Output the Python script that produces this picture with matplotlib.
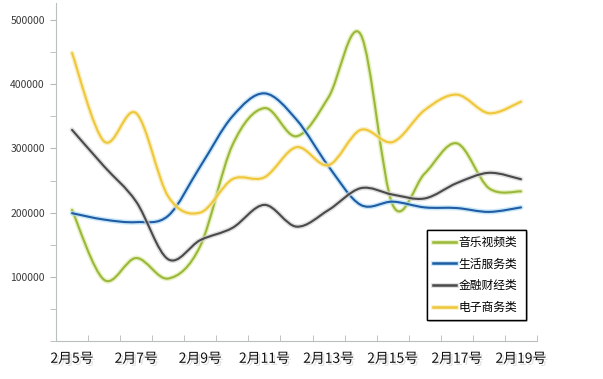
import matplotlib
matplotlib.use("Agg")
import matplotlib.pyplot as plt
import matplotlib.patheffects as pe
from matplotlib.path import Path
from matplotlib.patches import PathPatch
from matplotlib.lines import Line2D
from matplotlib.ticker import MultipleLocator, FixedLocator, NullFormatter
import numpy as np

plt.rcParams['font.family'] = ['Noto Sans CJK SC', 'DejaVu Sans']

# data
days = ['2月5号', '2月6号', '2月7号', '2月8号', '2月9号', '2月10号', '2月11号', '2月12号',
        '2月13号', '2月14号', '2月15号', '2月16号', '2月17号', '2月18号', '2月19号']
music = [204000, 95000, 129000, 97000, 148000, 305000, 363000, 319000,
         380000, 478000, 212000, 261000, 308000, 238000, 233000]
life = [199000, 189000, 185000, 195000, 272000, 350000, 386000, 345000,
        272000, 212000, 217000, 208000, 207000, 201000, 208000]
finance = [329000, 272000, 217000, 127000, 157000, 176000, 212000, 178000,
           204000, 238000, 228000, 222000, 246000, 262000, 252000]
ecommerce = [449000, 311000, 355000, 225000, 200000, 252000, 255000, 302000,
             274000, 329000, 310000, 360000, 384000, 355000, 373000]

series = [
    ('音乐视频类', music, '#9ab83a', '#dfecaa'),
    ('生活服务类', life, '#1f5ca3', '#b0dcf6'),
    ('金融财经类', finance, '#4a4a4a', '#d0d0d0'),
    ('电子商务类', ecommerce, '#efc73a', '#f9eab0'),
]


def smooth_path(xs, ys):
    # Catmull-Rom through the points, as cubic Bezier segments
    pts = np.column_stack([xs, ys]).astype(float)
    ext = np.vstack([pts[0], pts, pts[-1]])
    verts = [pts[0]]
    codes = [Path.MOVETO]
    for i in range(1, len(ext) - 2):
        p0, p1, p2, p3 = ext[i - 1], ext[i], ext[i + 1], ext[i + 2]
        verts += [p1 + (p2 - p0) / 6.0, p2 - (p3 - p1) / 6.0, p2]
        codes += [Path.CURVE4] * 3
    return Path(verts, codes)


fig = plt.figure(figsize=(6.03, 3.79), dpi=100)
ax = fig.add_axes([56 / 603, 1 - 340.7 / 379, 481 / 603, 337.7 / 379])

x = np.arange(len(days))
handles = []
for name, vals, color, glow in series:
    patch = PathPatch(smooth_path(x, vals), facecolor='none', edgecolor=color,
                      linewidth=1.5, capstyle='round', joinstyle='round',
                      path_effects=[pe.Stroke(linewidth=3.6, foreground=glow, alpha=0.7),
                                    pe.Normal()])
    ax.add_patch(patch)
    handles.append(Line2D([0], [0], color=color, linewidth=1.8,
                          path_effects=[pe.Stroke(linewidth=3.5, foreground=glow, alpha=0.7),
                                        pe.Normal()]))

ax.set_xlim(-0.5, len(days) - 0.5)
ax.set_ylim(0, 527000)

# axes styling
for s in ['top', 'right']:
    ax.spines[s].set_visible(False)
for s in ['left', 'bottom']:
    ax.spines[s].set_color('#b8c0c0')
    ax.spines[s].set_linestyle((0, (1, 1)))
    ax.spines[s].set_linewidth(0.8)

ax.yaxis.set_major_locator(FixedLocator([100000, 200000, 300000, 400000, 500000]))
ax.yaxis.set_minor_locator(MultipleLocator(50000))
ax.tick_params(axis='y', which='both', direction='out', length=4, color='#b8b8b8',
               labelsize=7.5, labelcolor='#3a3a3a', pad=4)

ax.xaxis.set_major_locator(FixedLocator(x[::2]))
ax.set_xticklabels(days[::2])
ax.xaxis.set_minor_locator(FixedLocator(np.arange(-0.5, len(days), 1.0)))
ax.xaxis.set_minor_formatter(NullFormatter())
ax.tick_params(axis='x', which='major', length=0, labelsize=10, labelcolor='#111111', pad=8)
ax.tick_params(axis='x', which='minor', direction='in', length=4, color='#b8b8b8')
for lab in ax.get_xticklabels():
    lab.set_path_effects([pe.withSimplePatchShadow(offset=(1.5, -1.5), shadow_rgbFace='#999999',
                                                   alpha=0.3)])

leg = ax.legend(handles, [s[0] for s in series], loc='lower left',
                bbox_to_anchor=(0.771, 0.061, 0.206, 0.261), mode='expand',
                fontsize=8.5, frameon=True, fancybox=False, shadow=False, framealpha=1,
                handlelength=2.0, handletextpad=0.2, labelspacing=0.75,
                borderpad=0.5, borderaxespad=0)
leg.get_frame().set_edgecolor('black')
leg.get_frame().set_linewidth(1.0)
leg.get_frame().set_path_effects([pe.withSimplePatchShadow(offset=(1.5, -1.5), alpha=0.2),
                                  pe.Normal()])

fig.savefig('out.png', dpi=100)
